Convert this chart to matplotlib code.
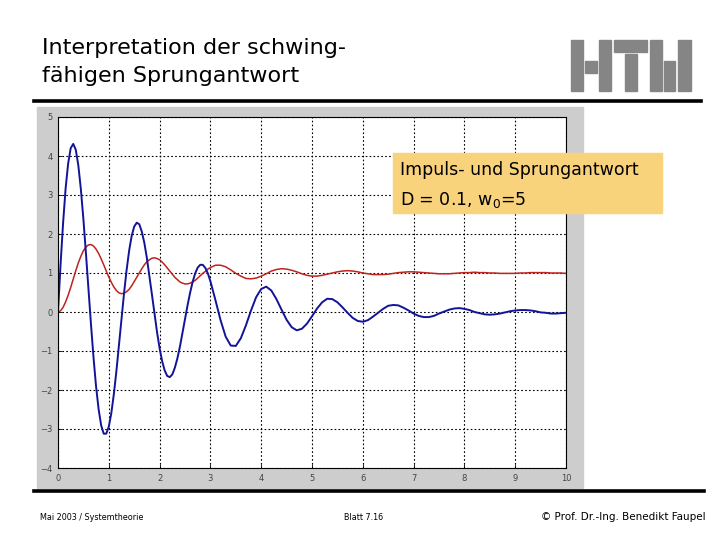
import matplotlib
matplotlib.use("Agg")
import matplotlib.pyplot as plt
from matplotlib.patches import Rectangle
from matplotlib.lines import Line2D

# time samples (s): fine up to 3 s, coarser after that
t_fine = [0.00, 0.05, 0.10, 0.15, 0.20, 0.25, 0.30, 0.35, 0.40, 0.45,
          0.50, 0.55, 0.60, 0.65, 0.70, 0.75, 0.80, 0.85, 0.90, 0.95,
          1.00, 1.05, 1.10, 1.15, 1.20, 1.25, 1.30, 1.35, 1.40, 1.45,
          1.50, 1.55, 1.60, 1.65, 1.70, 1.75, 1.80, 1.85, 1.90, 1.95,
          2.00, 2.05, 2.10, 2.15, 2.20, 2.25, 2.30, 2.35, 2.40, 2.45,
          2.50, 2.55, 2.60, 2.65, 2.70, 2.75, 2.80, 2.85, 2.90, 2.95,
          3.00]
t_coarse = [3.1, 3.2, 3.3, 3.4, 3.5, 3.6, 3.7, 3.8, 3.9, 4.0,
            4.1, 4.2, 4.3, 4.4, 4.5, 4.6, 4.7, 4.8, 4.9, 5.0,
            5.1, 5.2, 5.3, 5.4, 5.5, 5.6, 5.7, 5.8, 5.9, 6.0,
            6.1, 6.2, 6.3, 6.4, 6.5, 6.6, 6.7, 6.8, 6.9, 7.0,
            7.1, 7.2, 7.3, 7.4, 7.5, 7.6, 7.7, 7.8, 7.9, 8.0,
            8.1, 8.2, 8.3, 8.4, 8.5, 8.6, 8.7, 8.8, 8.9, 9.0,
            9.1, 9.2, 9.3, 9.4, 9.5, 9.6, 9.7, 9.8, 9.9, 10.0]

# impulse response (blue)
impuls_fine = [0.00, 1.21, 2.28, 3.17, 3.81, 4.20, 4.31, 4.16, 3.76, 3.15,
               2.38, 1.50, 0.58, -0.33, -1.18, -1.92, -2.50, -2.91, -3.12, -3.12,
               -2.94, -2.59, -2.10, -1.51, -0.85, -0.17, 0.48, 1.07, 1.57, 1.95,
               2.19, 2.29, 2.25, 2.06, 1.77, 1.38, 0.92, 0.44, -0.05, -0.52,
               -0.93, -1.26, -1.50, -1.64, -1.67, -1.60, -1.43, -1.19, -0.89, -0.54,
               -0.18, 0.17, 0.49, 0.77, 0.99, 1.14, 1.21, 1.21, 1.13, 0.99,
               0.79]
impuls_coarse = [0.30, -0.21, -0.63, -0.86, -0.87, -0.67, -0.34, 0.04, 0.38, 0.59,
                 0.65, 0.55, 0.33, 0.06, -0.20, -0.39, -0.47, -0.43, -0.30, -0.11,
                 0.09, 0.25, 0.34, 0.33, 0.25, 0.12, -0.02, -0.15, -0.23, -0.25,
                 -0.21, -0.12, -0.02, 0.08, 0.16, 0.18, 0.17, 0.11, 0.04, -0.04,
                 -0.10, -0.13, -0.13, -0.10, -0.04, 0.01, 0.06, 0.09, 0.10, 0.08,
                 0.05, 0.00, -0.03, -0.06, -0.07, -0.06, -0.04, -0.01, 0.02, 0.04,
                 0.05, 0.05, 0.04, 0.02, -0.01, -0.02, -0.04, -0.04, -0.03, -0.02]

# step response (red)
sprung_fine = [0.00, 0.03, 0.12, 0.26, 0.43, 0.63, 0.85, 1.06, 1.26, 1.43,
               1.57, 1.67, 1.72, 1.73, 1.69, 1.61, 1.50, 1.36, 1.21, 1.05,
               0.90, 0.76, 0.64, 0.55, 0.49, 0.47, 0.48, 0.52, 0.58, 0.67,
               0.78, 0.89, 1.00, 1.11, 1.21, 1.29, 1.34, 1.38, 1.39, 1.37,
               1.34, 1.28, 1.21, 1.13, 1.05, 0.97, 0.89, 0.83, 0.77, 0.74,
               0.72, 0.72, 0.74, 0.77, 0.81, 0.87, 0.93, 0.99, 1.04, 1.10,
               1.14]
sprung_coarse = [1.20, 1.20, 1.16, 1.08, 0.99, 0.92, 0.86, 0.85, 0.87, 0.92,
                 0.98, 1.05, 1.09, 1.11, 1.10, 1.07, 1.03, 0.98, 0.94, 0.92,
                 0.92, 0.94, 0.97, 1.00, 1.03, 1.05, 1.06, 1.05, 1.03, 1.00,
                 0.98, 0.96, 0.96, 0.96, 0.97, 0.99, 1.01, 1.02, 1.03, 1.03,
                 1.02, 1.01, 1.00, 0.99, 0.98, 0.98, 0.98, 0.99, 1.00, 1.01,
                 1.01, 1.02, 1.01, 1.01, 1.00, 1.00, 0.99, 0.99, 0.99, 0.99,
                 1.00, 1.00, 1.01, 1.01, 1.01, 1.01, 1.00, 1.00, 1.00, 0.99]

x_ticks = [0, 1, 2, 3, 4, 5, 6, 7, 8, 9, 10]
y_ticks = [-4, -3, -2, -1, 0, 1, 2, 3, 4, 5]

t = t_fine + t_coarse
impuls = impuls_fine + impuls_coarse
sprung = sprung_fine + sprung_coarse

W, H = 720, 540
fig = plt.figure(figsize=(7.2, 5.4), dpi=100)
fig.patch.set_facecolor("white")


def fx(px):
    return px / W


def fy(py):
    return 1 - py / H


# title
fig.text(fx(42), fy(48), "Interpretation der schwing-", fontsize=16,
         va="center", ha="left", color="black")
fig.text(fx(42), fy(76), "fähigen Sprungantwort", fontsize=16,
         va="center", ha="left", color="black")

# HTW logo blocks (x0, y0, x1, y1 in pixels)
logo = [(571, 40, 583, 91), (585, 61, 597, 73), (599, 40, 611, 91),
        (614, 40, 647, 52), (625, 54, 637, 91), (650, 40, 662, 91),
        (664, 61, 675, 91), (678, 40, 691, 91)]
for x0, y0, x1, y1 in logo:
    fig.patches.append(Rectangle((fx(x0), fy(y1)), fx(x1 - x0), (y1 - y0) / H,
                                 transform=fig.transFigure, color="#858585",
                                 zorder=1))

# rules
fig.lines.append(Line2D([fx(34), fx(701)], [fy(101), fy(101)], color="black",
                        lw=2.6, transform=fig.transFigure))
fig.lines.append(Line2D([fx(34), fx(704)], [fy(491), fy(491)], color="black",
                        lw=2.6, transform=fig.transFigure))

# gray figure frame behind the axes
fig.patches.append(Rectangle((fx(37), fy(488)), fx(546), (488 - 107) / H,
                             transform=fig.transFigure, color="#cdcdcd",
                             zorder=-1))

ax = fig.add_axes([fx(58), fy(468), fx(508), (468 - 117) / H])
ax.set_zorder(2)
ax.set_facecolor("white")
ax.plot(t, sprung, color="#c0221e", lw=1.1)
ax.plot(t, impuls, color="#13139a", lw=1.4)
ax.set_xlim(0, 10)
ax.set_ylim(-4, 5)
ax.set_xticks(x_ticks)
ax.set_yticks(y_ticks)
ax.grid(True, color="black", linestyle=(0, (1.5, 2)), lw=0.8)
ax.tick_params(direction="in", length=3, labelsize=6, labelcolor="#444444",
               pad=4, width=0.6)
for s in ax.spines.values():
    s.set_linewidth(0.8)

# annotation box
fig.patches.append(Rectangle((fx(393), fy(213)), fx(269), (213 - 153) / H,
                             transform=fig.transFigure, color="#f9d27c",
                             zorder=5))
fig.text(fx(400), fy(170), "Impuls- und Sprungantwort", fontsize=12.5,
         va="center", ha="left", zorder=6)
fig.text(fx(400), fy(200), r"D = 0.1, w$_0$=5", fontsize=12.5,
         va="center", ha="left", zorder=6)

# footer
fig.text(fx(40), fy(517), "Mai 2003 / Systemtheorie", fontsize=5.8,
         va="center", ha="left")
fig.text(fx(344), fy(517), "Blatt 7.16", fontsize=5.8, va="center", ha="left")
fig.text(fx(706), fy(517), "© Prof. Dr.-Ing. Benedikt Faupel", fontsize=7.5,
         va="center", ha="right")

fig.savefig("out.png", dpi=100)
